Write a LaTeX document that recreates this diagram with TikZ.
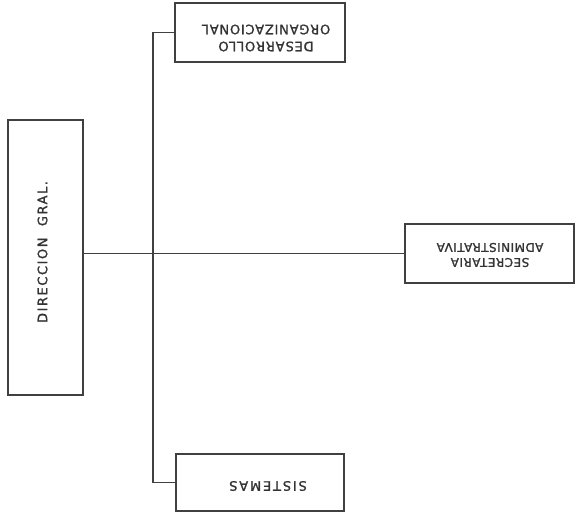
\documentclass[tikz,border=0pt]{standalone}
\usepackage{fontspec}
\setmainfont{DejaVu Sans}[FakeBold=1.2]
\begin{document}
\begin{tikzpicture}[x=1pt,y=-1pt,
  box/.style={draw=black!75, line width=2pt, inner sep=0pt},
  lbl/.style={text=black!80, align=center},
  conn/.style={draw=black!75, line width=1.2pt}]
\useasboundingbox (0,0) rectangle (577,523);
\node[box, rotate=90, minimum width=275pt, minimum height=75pt] (dir) at (45.5,257.5) {};
\node[lbl, rotate=90, font=\fontsize{13}{16}\selectfont\addfontfeatures{LetterSpace=12}] (dirt) at (42.5,252) {DIRECCION\ \ GRAL.};
\node[box, rotate=180, minimum width=170pt, minimum height=59pt] (des) at (260,32.5) {};
\node[lbl, rotate=180, font=\fontsize{13}{17}\selectfont\addfontfeatures{LetterSpace=6}] (dest) at (266,38) {DESARROLLO\\ORGANIZACIONAL};
\node[box, rotate=180, minimum width=169pt, minimum height=59pt] (sec) at (489.5,253.5) {};
\node[lbl, rotate=180, font=\fontsize{12}{15}\selectfont\addfontfeatures{LetterSpace=4}] (sect) at (490,255) {SECRETARIA\\ADMINISTRATIVA};
\node[box, rotate=180, minimum width=168pt, minimum height=57pt] (sis) at (260,482.5) {};
\node[lbl, rotate=180, font=\fontsize{13}{16}\selectfont\addfontfeatures{LetterSpace=14}] (sist) at (268,486) {SISTEMAS};
\draw[conn] (sec.east) -- (sec.east -| dir.south);
\draw[conn] (des.east) -- ++(-21,0) |- (sis.east);
\end{tikzpicture}
\end{document}
